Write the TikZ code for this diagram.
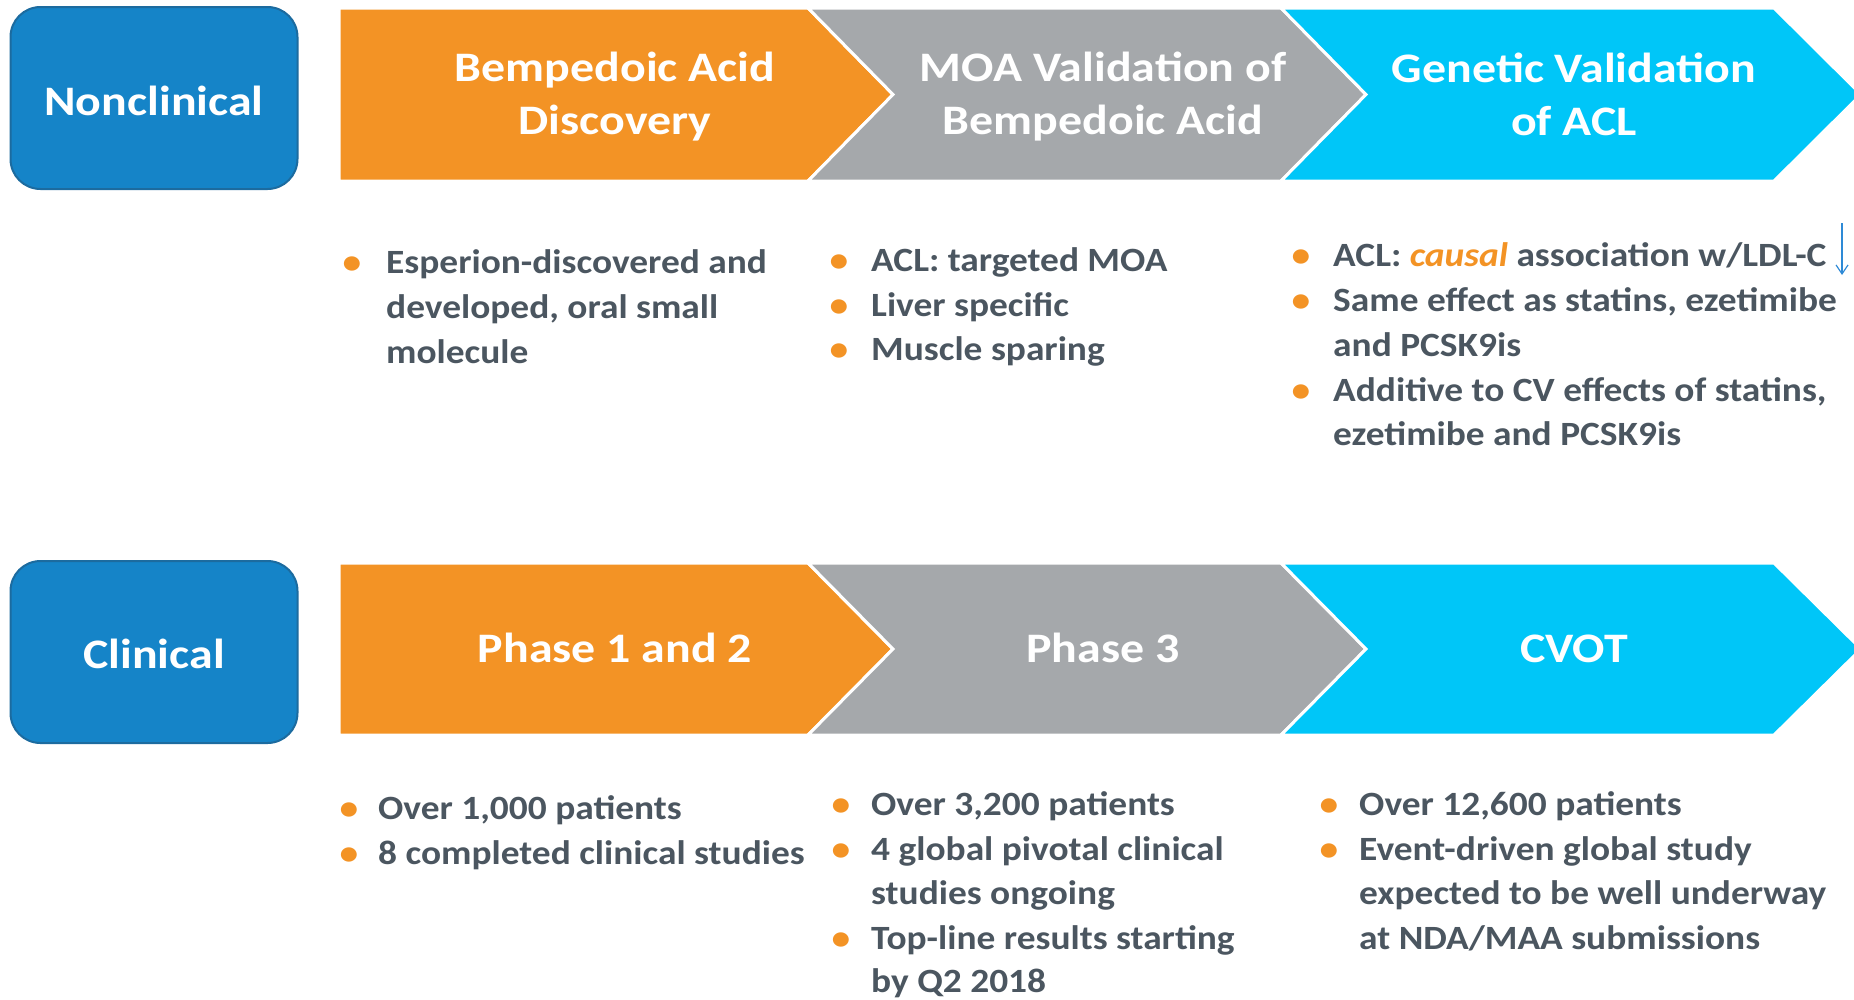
\documentclass[tikz,border=0pt]{standalone}
\usepackage{fontspec}
\setmainfont{Carlito}
\newfontfamily\labfont{Carlito}[FakeStretch=1.14]
\newfontfamily\bodyfont{Carlito}[FakeStretch=1.10]
\usetikzlibrary{arrows.meta}
\definecolor{corange}{HTML}{F39325}
\definecolor{cgray}{HTML}{A5A8AB}
\definecolor{ccyan}{HTML}{00C6F8}
\definecolor{cblue}{HTML}{1584C8}
\definecolor{cblueb}{HTML}{1C6B9F}
\definecolor{ctext}{HTML}{4B5660}
\definecolor{carrow}{HTML}{2E8AD6}
\newcommand{\itm}[4]{\node[item] (#1) at (#2,#3) {#4};}
\newcommand{\bul}[3]{\node[dot] (#1) at (#2,#3) {•};}
\begin{document}
\begin{tikzpicture}[x=1pt,y=-1pt,
  phase/.style={fill=#1, draw=white, line width=3pt, line join=miter},
  plabel/.style={text=white, font=\labfont\bfseries\fontsize{42}{53}\selectfont, align=center, inner sep=0pt},
  side/.style={rounded corners=30pt, fill=cblue, draw=cblueb, line width=2pt, text=white,
    font=\labfont\bfseries\fontsize{42}{53}\selectfont, minimum width=287pt, minimum height=182pt, outer sep=0pt},
  sidetext/.style={text=white, font=\labfont\bfseries\fontsize{42}{53}\selectfont, inner sep=0pt},
  item/.style={anchor=base west, text=ctext, font=\bodyfont\bfseries\fontsize{34}{45}\selectfont, inner sep=0pt},
  dot/.style={anchor=base, text=corange, font=\bodyfont\bfseries\fontsize{34}{45}\selectfont, inner sep=0pt}]
\useasboundingbox (0,0) rectangle (1854,999);
% side boxes
\node[side] (nonclin) at (154,98) {};
\node[sidetext] (nonclintxt) at (154,101) {Nonclinical};
\node[side] (clin) at (154,652) {};
\node[sidetext] (clintxt) at (154,654) {Clinical};
% top chevrons
\path[phase=corange] (339,8) -- (808,8) -- (893,94.5) -- (808,181) -- (339,181) -- cycle;
\path[phase=cgray] (808,8) -- (1281,8) -- (1366,94.5) -- (1281,181) -- (808,181) -- (893,94.5) -- cycle;
\path[phase=ccyan] (1281,8) -- (1774,8) -- (1861,94.5) -- (1774,181) -- (1281,181) -- (1366,94.5) -- cycle;
% bottom chevrons
\path[phase=corange] (339,563) -- (808,563) -- (893,649) -- (808,735) -- (339,735) -- cycle;
\path[phase=cgray] (808,563) -- (1281,563) -- (1366,649) -- (1281,735) -- (808,735) -- (893,649) -- cycle;
\path[phase=ccyan] (1281,563) -- (1774,563) -- (1861,649) -- (1774,735) -- (1281,735) -- (1366,649) -- cycle;
% chevron labels
\node[plabel] (disc) at (615,97) {Bempedoic Acid\\Discovery};
\node[plabel] (moa) at (1103,97) {MOA Validation of\\Bempedoic Acid};
\node[plabel] (gen) at (1574,94) {Genetic Validation\\of ACL};
\node[plabel] (ph12) at (615,648) {Phase 1 and 2};
\node[plabel] (ph3) at (1103,648) {Phase 3};
\node[plabel] (cvot) at (1574,649) {CVOT};
% top lists
\bul{b1}{352}{273}\itm{t1a}{386}{273}{Esperion-discovered and}
\itm{t1b}{386}{318}{developed, oral small}
\itm{t1c}{386}{363}{molecule}
\bul{b2}{839}{271}\itm{t2a}{871}{271}{ACL: targeted MOA}
\bul{b3}{839}{316}\itm{t2b}{871}{316}{Liver specific}
\bul{b4}{839}{360}\itm{t2c}{871}{360}{Muscle sparing}
\bul{b5}{1301}{266}\itm{t3a}{1333}{266}{ACL: \textcolor{corange}{\itshape causal} association w/LDL-C}
\bul{b6}{1301}{311}\itm{t3b}{1333}{311}{Same effect as statins, ezetimibe}
\itm{t3c}{1333}{356}{and PCSK9is}
\bul{b7}{1301}{401}\itm{t3d}{1333}{401}{Additive to CV effects of statins,}
\itm{t3e}{1333}{445}{ezetimibe and PCSK9is}
\coordinate (arrtop) at (1842,223);
\coordinate (arrbot) at (1842,275);
\draw[carrow, line width=1.2pt, -{Straight Barb[length=9pt,width=12pt]}] (arrtop) -- (arrbot);
% bottom lists
\bul{b8}{349}{819}\itm{u1a}{378}{819}{Over 1,000 patients}
\bul{b9}{349}{864}\itm{u1b}{378}{864}{8 completed clinical studies}
\bul{b10}{841}{815}\itm{u2a}{871}{815}{Over 3,200 patients}
\bul{b11}{841}{860}\itm{u2b}{871}{860}{4 global pivotal clinical}
\itm{u2c}{871}{904}{studies ongoing}
\bul{b12}{841}{949}\itm{u2d}{871}{949}{Top-line results starting}
\itm{u2e}{871}{992}{by Q2 2018}
\bul{b13}{1329}{815}\itm{u3a}{1359}{815}{Over 12,600 patients}
\bul{b14}{1329}{860}\itm{u3b}{1359}{860}{Event-driven global study}
\itm{u3c}{1359}{904}{expected to be well underway}
\itm{u3d}{1359}{949}{at NDA/MAA submissions}
\end{tikzpicture}
\end{document}
